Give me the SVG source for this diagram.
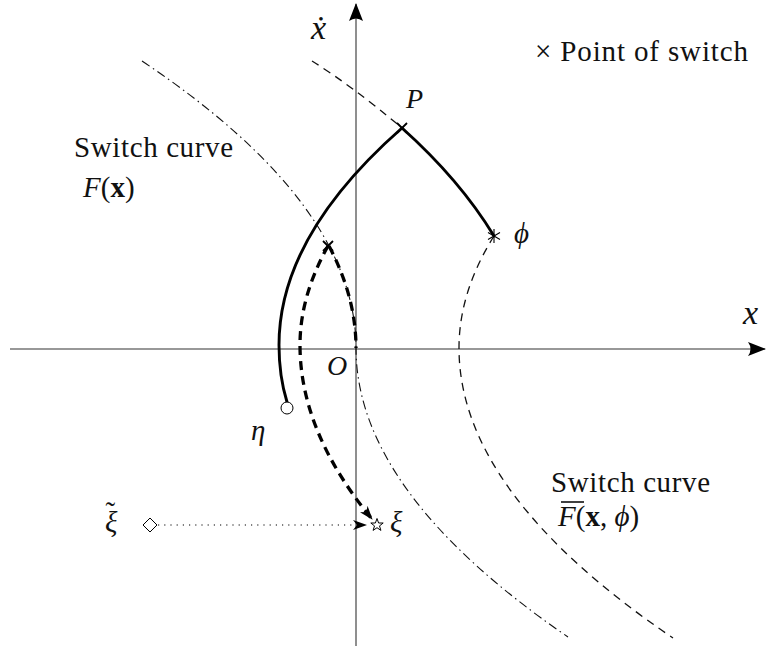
<svg xmlns="http://www.w3.org/2000/svg" width="766" height="648" viewBox="0 0 766 648" font-family="'Liberation Serif', 'DejaVu Serif', serif">
<style>
text{font-family:'Liberation Serif','DejaVu Serif',serif;fill:#111;font-size:29px}
.it{font-style:italic}
.big{font-size:34px}
.mid{font-size:28px}
.axis{stroke:#333;stroke-width:1.1;fill:none}
.dashdot{stroke:#111;stroke-width:1.1;fill:none;stroke-dasharray:9,4,1.5,4}
.dashed{stroke:#111;stroke-width:1.3;fill:none;stroke-dasharray:8,6}
.thick{stroke:#000;stroke-width:2.9;fill:none;stroke-linecap:round}
.thickdash{stroke:#000;stroke-width:3.3;fill:none;stroke-dasharray:9,6}
.mk{stroke:#000;stroke-width:1.8;fill:none}
.thin{stroke:#000;stroke-width:1;fill:#fff}
</style>
<defs>
<marker id="axarrow" viewBox="0 0 18 14" refX="17" refY="7" markerWidth="18" markerHeight="14" markerUnits="userSpaceOnUse" orient="auto">
<path d="M0,0 L18,7 L0,14 Q5,7 0,0 Z" fill="#000"/>
</marker>
<marker id="smarrow" viewBox="0 0 14 10" refX="13" refY="5" markerWidth="14" markerHeight="10" markerUnits="userSpaceOnUse" orient="auto">
<path d="M0,0 L14,5 L0,10 L4,5 Z" fill="#000"/>
</marker>
</defs>
<rect width="766" height="648" fill="#fff"/>

<g id="axes">
<line class="axis" x1="10" y1="349" x2="765" y2="349" marker-end="url(#axarrow)"/>
<line class="axis" x1="356" y1="646" x2="356" y2="4" marker-end="url(#axarrow)"/>
<text class="it big" x="311" y="39">ẋ</text>
<text class="it big" x="743" y="324">x</text>
<text class="it mid" x="327" y="375">O</text>
</g>

<g id="connectors">
<path id="switch-F" class="dashdot" d="M142,61 Q356,204 356,348 Q356,492 568,637"/>
<path id="switch-Fbar" class="dashed" d="M494,236 Q459,292 459,348 Q459,493 673,638"/>
<path id="top-dashed" class="dashed" d="M312,61 Q352,86 402,128"/>
<path id="traj-P-phi" class="thick" d="M402,128 Q460,180 494,236"/>
<path id="traj-P-eta" class="thick" d="M402,128 Q279,236 279,345 Q279,376 287,402"/>
<path id="traj-switch-O" class="thickdash" d="M329,246 Q356,297 356,348"/>
<path id="traj-switch-xi" class="thickdash" d="M328,246 Q300,296 300,345 Q300,432 372,519" marker-end="url(#smarrow)"/>
<line id="xi-tilde-to-xi" x1="158" y1="525" x2="366" y2="525" stroke="#000" stroke-width="1.1" stroke-dasharray="1.2,5" marker-end="url(#smarrow)"/>
</g>

<g id="legend">
<text x="535" y="61" textLength="213">× Point of switch</text>
</g>

<g id="node-P">
<path class="mk" d="M397,123 L407,133 M397,133 L407,123"/>
<text class="it mid" x="406" y="108">P</text>
</g>

<g id="node-switch">
<path class="mk" d="M323,241 L333,251 M323,251 L333,241"/>
</g>

<g id="node-phi">
<path stroke="#000" stroke-width="1.1" d="M494,229 L494,243 M488,232.5 L500,239.5 M488,239.5 L500,232.5"/>
<text class="it" x="514" y="243">ϕ</text>
</g>

<g id="node-eta">
<circle class="thin" cx="287" cy="408" r="6"/>
<text class="it" x="251" y="440">η</text>
</g>

<g id="node-xi">
<polygon class="thin" points="377,518.5 378.6,523 383.2,523 379.5,525.9 380.9,530.4 377,527.7 373.1,530.4 374.5,525.9 370.8,523 375.4,523"/>
<text class="it" x="390" y="532">ξ</text>
</g>

<g id="node-xi-tilde">
<polygon class="thin" points="150,518 157,525 150,532 143,525"/>
<text class="it" x="105" y="532">ξ<tspan font-style="normal" dx="-12" dy="-10">˜</tspan></text>
</g>

<g id="label-F">
<text x="74" y="157" textLength="159">Switch curve</text>
<text x="83" y="197"><tspan class="it">F</tspan>(<tspan font-weight="bold">x</tspan>)</text>
</g>

<g id="label-Fbar">
<text x="551" y="492" textLength="159">Switch curve</text>
<line x1="561" y1="502" x2="584" y2="502" stroke="#000" stroke-width="1.5"/>
<text x="558" y="526"><tspan class="it">F</tspan>(<tspan font-weight="bold">x</tspan>, <tspan class="it">ϕ</tspan>)</text>
</g>
</svg>
